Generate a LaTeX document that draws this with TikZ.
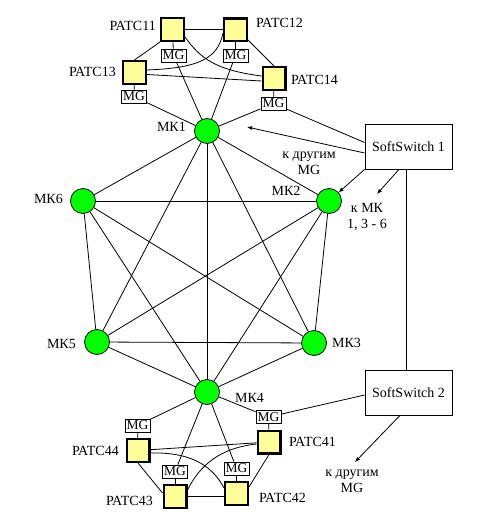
\documentclass[tikz,border=0pt]{standalone}
\usepackage{fontspec}
\setmainfont{Liberation Serif}
\usetikzlibrary{calc,arrows.meta}
\definecolor{patcyellow}{RGB}{255,255,153}
\definecolor{mkgreen}{RGB}{0,255,0}
\begin{document}
\begin{tikzpicture}[x=1pt,y=-1pt,
  patc/.style={draw,line width=2.4pt,fill=patcyellow,minimum size=22.6pt,inner sep=0pt},
  mg/.style={draw,line width=0.8pt,fill=white,minimum width=25pt,minimum height=13pt,inner sep=0pt,font=\fontsize{13.5}{14}\selectfont},
  mk/.style={circle,draw,line width=0.8pt,fill=mkgreen,minimum size=25pt,inner sep=0pt},
  ss/.style={draw,line width=0.8pt,minimum width=87pt,minimum height=45pt,inner sep=0pt,font=\fontsize{14}{16}\selectfont},
  lbl/.style={inner sep=0pt,font=\fontsize{14}{16}\selectfont},
  ln/.style={line width=0.8pt},
  arr/.style={line width=0.8pt,-{Latex[length=5pt,width=4pt]}}
]
\useasboundingbox (0,0) rectangle (491,529);

% MK nodes
\node[mk] (mk1) at (207,131) {};
\node[mk] (mk2) at (329,201) {};
\node[mk] (mk3) at (314,343) {};
\node[mk] (mk4) at (207,392) {};
\node[mk] (mk5) at (97,342) {};
\node[mk] (mk6) at (83,201) {};

% top cluster
\node[patc] (p11) at (172.5,29.5) {};
\node[mg]   (mg11) at (173.5,55.5) {MG};
\node[patc] (p12) at (235.5,30) {};
\node[mg]   (mg12) at (235.5,55.5) {MG};
\node[patc] (p13) at (134.5,72.5) {};
\node[mg]   (mg13) at (134,96.5) {MG};
\node[patc] (p14) at (274,78.5) {};
\node[mg]   (mg14) at (273.5,103.5) {MG};

% bottom cluster
\node[patc] (p44) at (138,450.5) {};
\node[mg]   (mg44) at (137.5,425.5) {MG};
\node[patc] (p43) at (175,496.5) {};
\node[mg]   (mg43) at (175,471.5) {MG};
\node[patc] (p42) at (236.5,493.5) {};
\node[mg]   (mg42) at (236.5,468.5) {MG};
\node[patc] (p41) at (269,442) {};
\node[mg]   (mg41) at (268.5,417) {MG};

% softswitches
\node[ss] (ss1) at (408.5,146.5) {SoftSwitch 1};
\node[ss] (ss2) at (408.5,392.5) {SoftSwitch 2};

% labels
\node[lbl,anchor=east] (l11) at (156,26) {РАТС11};
\node[lbl,anchor=west] (l12) at (256,23) {РАТС12};
\node[lbl,anchor=east] (l13) at (116,72) {РАТС13};
\node[lbl,anchor=west] (l14) at (291,80) {РАТС14};
\node[lbl,anchor=east] (l44) at (119,451) {РАТС44};
\node[lbl,anchor=east] (l43) at (153,501) {РАТС43};
\node[lbl,anchor=west] (l42) at (259,498) {РАТС42};
\node[lbl,anchor=west] (l41) at (289,442) {РАТС41};
\node[lbl,anchor=east] (lm1) at (186,127) {МК1};
\node[lbl] (lm2) at (286,191) {МК2};
\node[lbl,anchor=west] (lm3) at (332,343) {МК3};
\node[lbl,anchor=west] (lm4) at (235,398) {МК4};
\node[lbl,anchor=east] (lm5) at (76,344) {МК5};
\node[lbl,anchor=east] (lm6) at (63,199) {МК6};
\node[lbl,align=center] (t1) at (309,163) {к другим\\MG};
\node[lbl,align=center] (t2) at (367,216.5) {к МК\\1, 3 - 6};
\node[lbl,align=center] (t3) at (352,481) {к другим\\MG};

% MK full mesh
\foreach \a/\b in {1/2,1/3,1/4,1/5,1/6,2/3,2/4,2/5,2/6,3/4,3/5,3/6,4/5,4/6,5/6}
  \draw[ln] (mk\a) -- (mk\b);

% PATC - MG
\foreach \n in {11,12,13,14,41,42,43,44}
  \draw[ln] (p\n) -- (mg\n);

% MG - MK
\draw[ln] (mg11) -- (mk1);
\draw[ln] (mg12) -- (mk1);
\draw[ln] (mg13) -- (mk1);
\draw[ln] (mg14) -- (mk1);
\draw[ln] (mg41) -- (mk4);
\draw[ln] (mg42) -- (mk4);
\draw[ln] (mg43) -- (mk4);
\draw[ln] (mg44) -- (mk4);

% top cluster links
\draw[ln] (p11.east) -- (p11.east -| p12.west);
\draw[ln] (p13.north) -- (p11.south west);
\draw[ln] ($(p12.east)+(0,10)$) -- (p14.north);
\draw[ln] ($(p13.east)+(0,2)$) -- ($(p14.west)+(0,2.5)$);
\draw[ln] ($(p11.east)+(0,7.5)$) .. controls (200,58) and (215,70) .. ($(p14.west)+(0,-2.5)$);
\draw[ln] ($(p12.west)+(0,3)$) .. controls (218,58) and (200,68) .. ($(p13.east)+(0,-2.5)$);

% bottom cluster links
\draw[ln] (p43.east) -- (p43.east -| p42.west);
\draw[ln] (p44.south) -- ($(p43.west)+(0,-3.5)$);
\draw[ln] (p41.south) -- ($(p42.east)+(0,-6.5)$);
\draw[ln] (p44) -- (p41);
\draw[ln] ($(p44.east)+(0,2.5)$) .. controls (190,452) and (212,465) .. ($(p42.west)+(0,-5.5)$);
\draw[ln] ($(p43.east)+(0,-6.5)$) .. controls (200,465) and (220,448) .. ($(p41.west)+(0,2)$);

% softswitch links
\draw[ln] (mg14) -- ($(ss1.west)+(0,-4)$);
\draw[ln] (mg41) -- ($(ss2.west)+(0,2.5)$);
\draw[ln] ($(ss1.south)+(-2,0)$) -- ($(ss2.north)+(-2,0)$);

\coordinate (a1) at (247,127);
\coordinate (a2) at (377,194);
\coordinate (a3) at (355,462);
\draw[arr] ($(ss1.west)+(0,6.5)$) -- (a1);
\draw[arr] (ss1.south west) -- (mk2);
\draw[arr] ($(ss1.south)+(-9.5,0)$) -- (a2);
\draw[arr] ($(ss2.south)+(-8.5,0)$) -- (a3);
\end{tikzpicture}
\end{document}
